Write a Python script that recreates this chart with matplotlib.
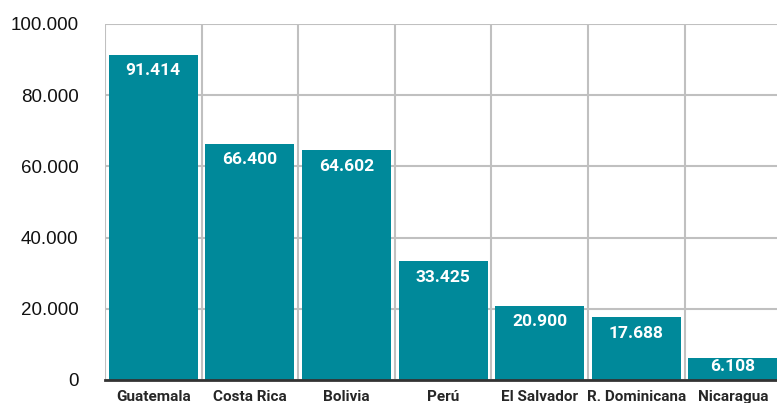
import matplotlib
matplotlib.use("Agg")
import matplotlib.pyplot as plt
from matplotlib.ticker import FixedLocator

categories = ["Guatemala", "Costa Rica", "Bolivia", "Perú", "El Salvador", "R. Dominicana", "Nicaragua"]
values = [91414, 66400, 64602, 33425, 20900, 17688, 6108]
yticks = [0, 20000, 40000, 60000, 80000, 100000]

def fmt(v):
    return f"{v:,}".replace(",", ".")

BAR = "#00899a"
GRID = "#c0c0c0"
LABEL_FONT = ["Roboto", "DejaVu Sans"]

fig = plt.figure(figsize=(7.77, 4.03), dpi=100)
ax = fig.add_axes([105/777, 23/403, 1 - 105/777, (380-24)/403])

x = list(range(len(categories)))
ax.bar(x, values, width=0.92, color=BAR, zorder=3)

ax.set_xlim(-0.5, -0.5 + 672/96.6)
ax.set_ylim(0, 100000)

ax.set_yticks(yticks)
ax.set_yticklabels([fmt(v) for v in yticks], fontsize=13.5, family=["Liberation Sans", "DejaVu Sans"])
ax.set_xticks(x)
ax.set_xticklabels(categories, fontsize=11, fontweight="bold", family=LABEL_FONT, color="#262626")
ax.xaxis.set_minor_locator(FixedLocator([i - 0.5 for i in range(len(categories) + 1)]))

ax.tick_params(axis="y", which="both", length=0, pad=19, colors="#111111")
ax.tick_params(axis="x", which="both", length=0, pad=7)
ax.grid(axis="y", which="major", color=GRID, linewidth=1.5, zorder=0)
ax.grid(axis="x", which="minor", color=GRID, linewidth=1.5, zorder=0)
ax.grid(axis="x", which="major", visible=False)

for s in ["top", "right", "left"]:
    ax.spines[s].set_visible(False)
ax.spines["bottom"].set_color("#333333")
ax.spines["bottom"].set_linewidth(2)
ax.spines["bottom"].set_zorder(4)

for xi, v in zip(x, values):
    y = max(v - 4500, v * 0.6)
    ax.text(xi, y, fmt(v), ha="center", va="center", color="white",
            fontsize=12.5, fontweight="bold", family=LABEL_FONT, zorder=5)

fig.savefig("out.png", dpi=100)
